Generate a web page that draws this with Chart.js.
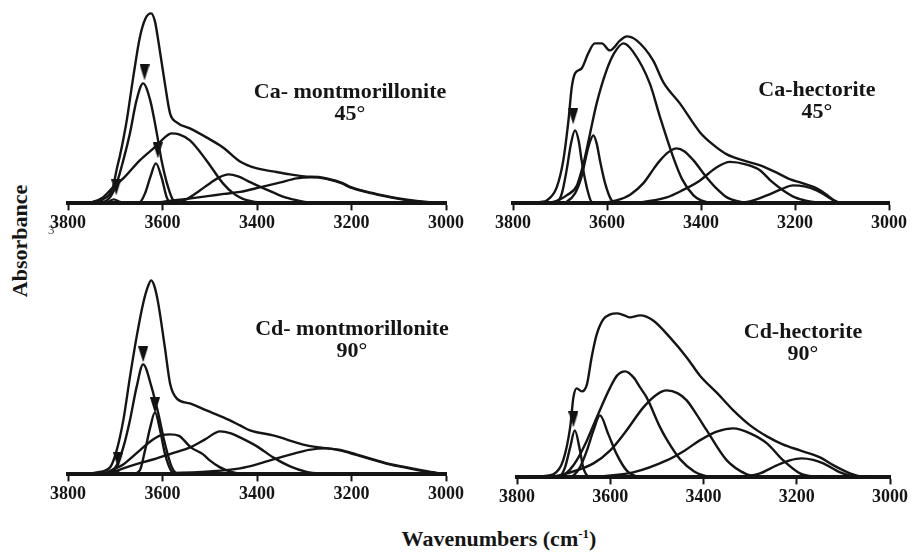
<!DOCTYPE html>
<html>
<head>
<meta charset="utf-8">
<script src="https://cdn.jsdelivr.net/npm/chart.js@4.4.1/dist/chart.umd.min.js"></script>
<style>
  body { margin: 0; background: #fff; }
  #fig { position: relative; width: 912px; height: 557px; overflow: hidden; background: #fff; }
  #fig canvas { position: absolute; }
  .txt { position: absolute; font-family: 'Liberation Serif', 'DejaVu Serif', serif; font-weight: bold; color: #151515; white-space: nowrap; }
  .label { text-align: center; font-size: 22px; line-height: 22px; transform: translateX(-50%); }
</style>
</head>
<body>
<div id="fig"></div>
<script>
'use strict';

/* ====== Data: [wavenumber (cm-1), absorbance] ====== */

var tickValues = [3800, 3600, 3400, 3200, 3000];

// Ca-montmorillonite 45°
var caMontEnvelope = [[3800,0],[3770,0.003],[3753,0.01],[3726,0.04],[3705,0.16],[3697,0.34],[3690,0.48],[3683,0.64],[3676,0.82],[3662,1.26],[3648,1.66],[3636,1.85],[3624,1.90],[3616,1.82],[3609,1.63],[3595,1.20],[3584,0.90],[3570,0.81],[3542,0.75],[3507,0.66],[3472,0.56],[3436,0.42],[3400,0.35],[3366,0.32],[3330,0.29],[3300,0.27],[3270,0.265],[3253,0.25],[3220,0.205],[3203,0.165],[3170,0.12],[3133,0.08],[3100,0.05],[3062,0.025],[3030,0.01],[3000,0.003]];
var caMont3700 = [[3730,0],[3715,0.015],[3703,0.04],[3690,0.015],[3675,0]];
var caMont3645 = [[3730,0],[3711,0.06],[3697,0.20],[3683,0.43],[3669,0.70],[3655,1.03],[3641,1.20],[3626,1.03],[3612,0.70],[3602,0.43],[3588,0.16],[3577,0.03],[3560,0]];
var caMont3620 = [[3660,0],[3648,0.01],[3637,0.10],[3626,0.26],[3614,0.40],[3602,0.26],[3591,0.06],[3584,0.01],[3570,0]];
var caMont3590 = [[3760,0],[3750,0.01],[3726,0.06],[3705,0.16],[3683,0.25],[3648,0.43],[3612,0.58],[3595,0.66],[3581,0.70],[3565,0.69],[3542,0.63],[3507,0.43],[3472,0.20],[3450,0.10],[3430,0.045],[3410,0.02],[3380,0.005],[3350,0]];
var caMont3460 = [[3600,0],[3577,0.007],[3550,0.04],[3521,0.13],[3500,0.20],[3480,0.26],[3460,0.29],[3440,0.27],[3420,0.225],[3400,0.18],[3366,0.11],[3340,0.06],[3310,0.025],[3290,0.01],[3260,0.003],[3240,0]];
var caMont3285 = [[3650,0],[3600,0.015],[3577,0.03],[3540,0.05],[3500,0.075],[3470,0.095],[3436,0.115],[3394,0.16],[3350,0.21],[3316,0.25],[3285,0.26],[3253,0.245],[3220,0.20],[3203,0.16],[3170,0.115],[3133,0.075],[3100,0.045],[3062,0.02],[3030,0.008],[3000,0.003]];
var caMontArrows = [[3638,1.31],[3610,0.53],[3698,0.16]];

// Ca-hectorite 45°
var caHecEnvelope = [[3800,0],[3760,0.005],[3740,0.015],[3728,0.03],[3707,0.16],[3693,0.43],[3682,0.83],[3675,1.16],[3668,1.30],[3654,1.35],[3640,1.50],[3626,1.60],[3611,1.60],[3594,1.53],[3572,1.63],[3558,1.67],[3537,1.63],[3502,1.43],[3480,1.21],[3445,1.00],[3402,0.71],[3375,0.59],[3345,0.49],[3310,0.43],[3274,0.38],[3240,0.31],[3210,0.24],[3189,0.21],[3170,0.18],[3154,0.15],[3135,0.095],[3118,0.035],[3105,0.005],[3080,0],[3000,0]];
var caHec3670 = [[3720,0],[3705,0.02],[3696,0.10],[3686,0.33],[3677,0.59],[3668,0.73],[3660,0.62],[3654,0.43],[3643,0.16],[3632,0.01],[3620,0]];
var caHec3630 = [[3700,0],[3686,0.015],[3668,0.10],[3654,0.27],[3643,0.50],[3636,0.62],[3629,0.68],[3622,0.60],[3615,0.43],[3604,0.20],[3590,0.03],[3575,0]];
var caHec3565 = [[3740,0],[3714,0.015],[3700,0.04],[3686,0.08],[3664,0.18],[3650,0.40],[3636,0.70],[3622,1.00],[3601,1.33],[3585,1.50],[3565,1.60],[3545,1.52],[3509,1.20],[3487,0.86],[3459,0.46],[3440,0.24],[3416,0.08],[3400,0.03],[3380,0.005],[3360,0]];
var caHec3450 = [[3620,0],[3580,0.03],[3550,0.09],[3523,0.20],[3500,0.35],[3487,0.43],[3470,0.51],[3452,0.55],[3435,0.52],[3416,0.43],[3388,0.26],[3365,0.14],[3345,0.06],[3310,0.01],[3290,0]];
var caHec3340 = [[3560,0],[3530,0.01],[3473,0.06],[3440,0.13],[3402,0.23],[3370,0.35],[3338,0.415],[3305,0.39],[3274,0.33],[3250,0.22],[3225,0.13],[3200,0.06],[3175,0.025],[3150,0.008],[3130,0]];
var caHec3200 = [[3330,0],[3296,0.02],[3260,0.08],[3230,0.14],[3204,0.18],[3180,0.17],[3154,0.13],[3135,0.08],[3118,0.03],[3104,0.005],[3090,0]];
var caHecArrows = [[3672,0.87]];

// Cd-montmorillonite 90°
var cdMontEnvelope = [[3800,0],[3760,0.008],[3739,0.02],[3711,0.07],[3697,0.24],[3683,0.54],[3669,0.97],[3655,1.37],[3641,1.71],[3630,1.89],[3624,1.94],[3617,1.88],[3609,1.71],[3595,1.27],[3584,0.91],[3570,0.76],[3542,0.71],[3507,0.64],[3471,0.57],[3436,0.49],[3415,0.44],[3366,0.39],[3295,0.29],[3260,0.265],[3224,0.245],[3190,0.20],[3154,0.15],[3120,0.105],[3083,0.07],[3050,0.04],[3020,0.015],[3000,0.005]];
var cdMont3700 = [[3725,0],[3712,0.015],[3702,0.045],[3692,0.015],[3680,0]];
var cdMont3641 = [[3725,0],[3710,0.02],[3697,0.09],[3683,0.27],[3669,0.54],[3655,0.87],[3641,1.10],[3623,0.87],[3609,0.61],[3595,0.31],[3581,0.08],[3570,0.01],[3555,0]];
var cdMont3616 = [[3665,0],[3648,0.04],[3637,0.24],[3626,0.47],[3616,0.62],[3605,0.44],[3595,0.21],[3581,0.03],[3570,0]];
var cdMont3585 = [[3740,0],[3718,0.02],[3700,0.06],[3683,0.10],[3648,0.24],[3620,0.35],[3600,0.395],[3584,0.40],[3565,0.385],[3540,0.27],[3514,0.20],[3500,0.14],[3480,0.075],[3464,0.04],[3440,0.01],[3420,0]];
var cdMont3478 = [[3740,0],[3700,0.03],[3683,0.06],[3650,0.11],[3612,0.16],[3580,0.21],[3542,0.27],[3510,0.35],[3478,0.43],[3455,0.41],[3436,0.37],[3400,0.28],[3366,0.17],[3330,0.08],[3295,0.025],[3260,0.005],[3240,0]];
var cdMont3253 = [[3700,0],[3600,0.01],[3500,0.03],[3436,0.06],[3400,0.10],[3358,0.16],[3320,0.21],[3290,0.245],[3253,0.26],[3224,0.24],[3190,0.195],[3154,0.145],[3120,0.10],[3083,0.065],[3050,0.035],[3020,0.012],[3000,0.005]];
var cdMontArrows = [[3641,1.20],[3616,0.69],[3694,0.14]];

// Cd-hectorite 90°
var cdHecEnvelope = [[3800,0],[3760,0.005],[3740,0.015],[3722,0.03],[3701,0.17],[3686,0.50],[3679,0.80],[3672,0.89],[3661,0.86],[3650,0.93],[3640,1.20],[3629,1.43],[3615,1.58],[3600,1.63],[3586,1.64],[3570,1.62],[3558,1.60],[3536,1.62],[3508,1.57],[3472,1.40],[3436,1.20],[3408,1.02],[3370,0.84],[3336,0.67],[3300,0.52],[3264,0.41],[3230,0.33],[3193,0.27],[3150,0.20],[3121,0.12],[3100,0.07],[3086,0.04],[3065,0.01],[3040,0]];
var cdHec3676 = [[3720,0],[3708,0.01],[3697,0.10],[3686,0.30],[3676,0.47],[3665,0.27],[3658,0.10],[3647,0.01],[3635,0]];
var cdHec3622 = [[3690,0],[3679,0.02],[3665,0.10],[3650,0.27],[3636,0.47],[3622,0.62],[3604,0.43],[3586,0.23],[3565,0.07],[3543,0.01],[3525,0]];
var cdHec3568 = [[3720,0],[3701,0.02],[3686,0.08],[3672,0.17],[3650,0.37],[3629,0.60],[3600,0.90],[3585,1.02],[3568,1.06],[3550,1.00],[3536,0.90],[3522,0.80],[3493,0.50],[3479,0.38],[3450,0.18],[3420,0.06],[3400,0.02],[3380,0]];
var cdHec3479 = [[3730,0],[3693,0.04],[3636,0.14],[3600,0.27],[3565,0.47],[3529,0.70],[3500,0.83],[3479,0.87],[3455,0.84],[3436,0.77],[3415,0.63],[3393,0.47],[3350,0.17],[3307,0.03],[3280,0.005],[3260,0]];
var cdHec3336 = [[3650,0],[3622,0.01],[3551,0.05],[3479,0.17],[3440,0.27],[3408,0.37],[3370,0.46],[3336,0.49],[3300,0.44],[3264,0.34],[3229,0.17],[3193,0.04],[3157,0.005],[3140,0]];
var cdHec3190 = [[3320,0],[3279,0.04],[3243,0.12],[3215,0.17],[3190,0.19],[3165,0.175],[3143,0.14],[3107,0.05],[3079,0.01],[3060,0]];
var cdHecArrows = [[3679,0.58]];

/* ====== Layout (pixel positions of the panels) ====== */

var PAD = 30;
var INK = '#151515';

var panels = [
	{ left: 68, right: 446, base: 203, curves: [caMontEnvelope, caMont3700, caMont3645, caMont3620, caMont3590, caMont3460, caMont3285], arrows: caMontArrows, label: ['Ca- montmorillonite', '45°'], lx: 350, ly: 80 },
	{ left: 513, right: 889, base: 203, curves: [caHecEnvelope, caHec3670, caHec3630, caHec3565, caHec3450, caHec3340, caHec3200], arrows: caHecArrows, label: ['Ca-hectorite', '45°'], lx: 817, ly: 78 },
	{ left: 68, right: 446, base: 474.5, curves: [cdMontEnvelope, cdMont3700, cdMont3641, cdMont3616, cdMont3585, cdMont3478, cdMont3253], arrows: cdMontArrows, label: ['Cd- montmorillonite', '90°'], lx: 352, ly: 317 },
	{ left: 517, right: 890, base: 477, curves: [cdHecEnvelope, cdHec3676, cdHec3622, cdHec3568, cdHec3479, cdHec3336, cdHec3190], arrows: cdHecArrows, label: ['Cd-hectorite', '90°'], lx: 803, ly: 320 }
];

// Down-pointing marker
var arrowImg = document.createElement('canvas');
arrowImg.width = 10;
arrowImg.height = 16;
var g = arrowImg.getContext('2d');
g.fillStyle = '#111';
g.beginPath();
g.moveTo(0, 0);
g.lineTo(10, 0);
g.lineTo(5, 16);
g.closePath();
g.fill();

function toPoints(arr) {
	return arr.map(function(p) { return { x: p[0], y: p[1] }; });
}

var fig = document.getElementById('fig');

function addText(html, cls, x, y, extra) {
	var d = document.createElement('div');
	d.className = 'txt ' + (cls || '');
	d.innerHTML = html;
	d.style.left = x + 'px';
	d.style.top = y + 'px';
	if (extra) {
		for (var k in extra) { d.style[k] = extra[k]; }
	}
	fig.appendChild(d);
	return d;
}

panels.forEach(function(p) {
	var canvas = document.createElement('canvas');
	var w = p.right - p.left + 2 * PAD;
	var h = 250;
	canvas.width = w;
	canvas.height = h;
	canvas.style.width = w + 'px';
	canvas.style.height = h + 'px';
	canvas.style.left = (p.left - PAD) + 'px';
	canvas.style.top = '0px';
	fig.appendChild(canvas);

	var datasets = p.curves.map(function(c) {
		return {
			data: toPoints(c),
			borderColor: INK,
			borderWidth: 2.4,
			pointRadius: 0,
			fill: false,
			cubicInterpolationMode: 'monotone'
		};
	});
	datasets.push({
		data: toPoints(p.arrows),
		showLine: false,
		pointStyle: arrowImg,
		pointRadius: 8,
		borderWidth: 0
	});

	var chart = new Chart(canvas, {
		type: 'line',
		data: { datasets: datasets },
		options: {
			responsive: false,
			animation: false,
			events: [],
			layout: { padding: { left: PAD, right: PAD, top: 5, bottom: 0 } },
			plugins: { legend: { display: false }, tooltip: { enabled: false } },
			scales: {
				x: {
					type: 'linear',
					reverse: true,
					min: 3000,
					max: 3800,
					afterBuildTicks: function(scale) {
						scale.ticks = tickValues.map(function(v) { return { value: v }; });
					},
					ticks: {
						font: { family: 'Liberation Serif', size: 18, weight: 'bold' },
						color: INK,
						padding: 2,
						maxRotation: 0,
						callback: function(v) { return String(v); }
					},
					grid: {
						display: true,
						drawOnChartArea: false,
						drawTicks: true,
						tickLength: 7,
						tickWidth: 2,
						color: INK
					},
					border: { display: true, width: 4, color: INK }
				},
				y: { display: false, min: 0, max: 2 }
			}
		}
	});

	// line the baseline up with the picture, 1 px = 0.01 absorbance
	var area = chart.chartArea;
	canvas.style.top = (p.base - area.bottom) + 'px';
	chart.options.scales.y.max = (area.bottom - area.top) / 100;
	chart.update('none');

	addText(p.label[0] + '<br>' + p.label[1], 'label', p.lx, p.ly);
});

// axis titles
addText('Absorbance', '', 20, 241, { fontSize: '22px', transform: 'translate(-50%, -50%) rotate(-90deg)' });
addText('Wavenumbers (cm<sup style="font-size:13px;vertical-align:8px;">-1</sup>)', '', 499, 526, { fontSize: '22px', transform: 'translateX(-50%)' });
addText('3', '', 48, 222, { fontSize: '13px', fontWeight: 'normal', color: '#444' });
</script>
</body>
</html>
